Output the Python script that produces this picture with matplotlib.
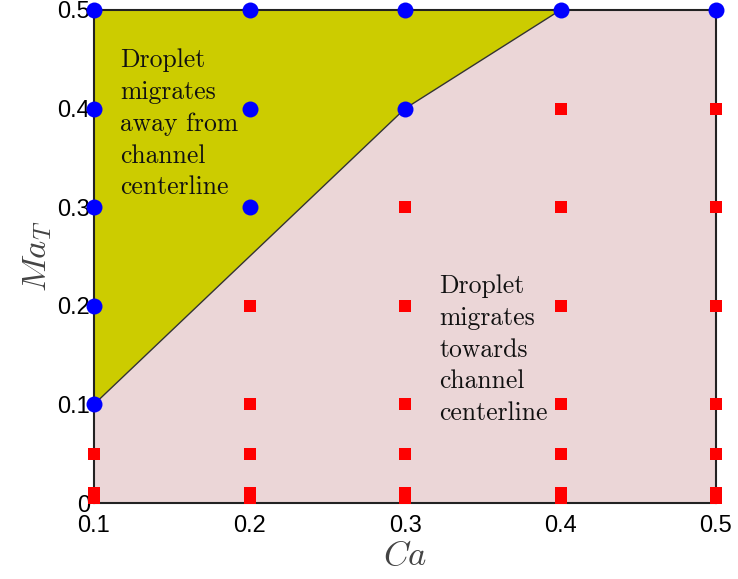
import matplotlib

matplotlib.use("Agg")
import matplotlib.pyplot as plt
from matplotlib.patches import Polygon

plt.rcParams["mathtext.fontset"] = "cm"

# Capillary number columns and Marangoni values where runs were done
ca_values = [0.1, 0.2, 0.3, 0.4, 0.5]
away_ma = {  # droplet migrates away from centerline (blue circles)
    0.1: [0.1, 0.2, 0.3, 0.4, 0.5],
    0.2: [0.3, 0.4, 0.5],
    0.3: [0.4, 0.5],
    0.4: [0.5],
    0.5: [0.5],
}
towards_ma = {  # droplet migrates towards centerline (red squares)
    0.1: [0.05, 0.01, 0.005],
    0.2: [0.2, 0.1, 0.05, 0.01, 0.005],
    0.3: [0.3, 0.2, 0.1, 0.05, 0.01, 0.005],
    0.4: [0.4, 0.3, 0.2, 0.1, 0.05, 0.01, 0.005],
    0.5: [0.4, 0.3, 0.2, 0.1, 0.05, 0.01, 0.005],
}
# boundary of the "away" region
boundary_ca = [0.1, 0.3, 0.4, 0.4, 0.1]
boundary_ma = [0.1, 0.4, 0.5, 0.5, 0.5]

xticks = [0.1, 0.2, 0.3, 0.4, 0.5]
yticks = [0, 0.1, 0.2, 0.3, 0.4, 0.5]
ytick_labels = ["0", "0.1", "0.2", "0.3", "0.4", "0.5"]

fig = plt.figure(figsize=(7.38, 5.79), dpi=100)
ax = fig.add_axes([94 / 738, 1 - 503 / 579, 622 / 738, 493 / 579])
ax.set_xlim(0.1, 0.5)
ax.set_ylim(0, 0.5)
ax.set_facecolor("#ebd6d7")

poly = Polygon(list(zip(boundary_ca, boundary_ma)), closed=True,
               facecolor="#cccc00", edgecolor="#333333", linewidth=1.0, zorder=1)
ax.add_patch(poly)

for ca in ca_values:
    ax.plot([ca] * len(towards_ma[ca]), towards_ma[ca], "s", color="#ff0000",
            markersize=8, markeredgewidth=0, clip_on=False, zorder=3)
    ax.plot([ca] * len(away_ma[ca]), away_ma[ca], "o", color="#0000ff",
            markersize=11.5, markeredgewidth=0, clip_on=False, zorder=4)

ax.text(0.117, 0.461, "Droplet\nmigrates\naway from\nchannel\ncenterline",
        family="cmr10", fontsize=18.5, va="top", ha="left", linespacing=1.43,
        color="#111111", zorder=5)
ax.text(0.322, 0.232, "Droplet\nmigrates\ntowards\nchannel\ncenterline",
        family="cmr10", fontsize=18.5, va="top", ha="left", linespacing=1.43,
        color="#111111", zorder=5)

ax.set_xticks(xticks)
ax.set_xticklabels([str(v) for v in xticks])
ax.set_yticks(yticks)
ax.set_yticklabels(ytick_labels)
ax.tick_params(length=0, labelsize=17)
ax.tick_params(axis="x", pad=9)
ax.tick_params(axis="y", pad=3)
for lab in ax.get_xticklabels() + ax.get_yticklabels():
    lab.set_family("Liberation Sans")

for sp in ax.spines.values():
    sp.set_linewidth(1.5)
    sp.set_color("#222222")
    sp.set_zorder(2)

ax.set_xlabel("$Ca$", fontsize=25, color="#444444", labelpad=0)
ax.set_ylabel("$Ma_T$", fontsize=25, color="#444444", labelpad=2)

fig.savefig("out.png", dpi=100)
